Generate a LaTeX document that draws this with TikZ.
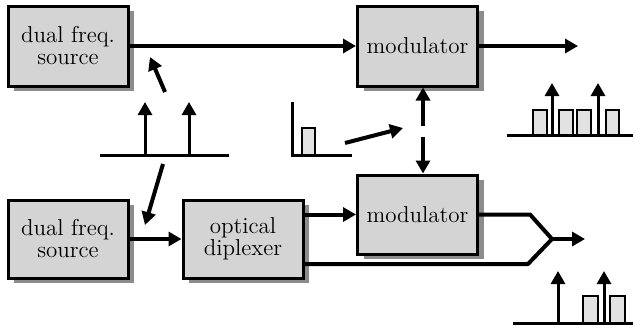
\documentclass[tikz,border=0pt]{standalone}
\usetikzlibrary{arrows.meta,calc,shadows}
\definecolor{blkFill}{HTML}{D4D4D4}
\definecolor{blkShade}{HTML}{8C8C8C}
\definecolor{bandFill}{HTML}{E2E2E2}
\tikzset{
  block/.style={
    draw=black, line width=1.5pt, fill=blkFill,
    minimum width=#1, minimum height=40pt, inner sep=2pt,
    align=center, font=\fontsize{11.5}{11}\selectfont,
    drop shadow={shadow xshift=3pt, shadow yshift=-2.5pt,
                 fill=blkShade, opacity=1}},
  block/.default=60pt,
  >={Triangle[length=6.5pt,width=7pt]},
  sig/.style={line width=2pt, ->},
  wire/.style={line width=2pt, line join=round},
  tone/.style={line width=1.5pt, ->},
  axis/.style={line width=1.5pt},
  band/.style={draw=black, line width=1pt, fill=bandFill},
}

\begin{document}
\begin{tikzpicture}[x=0.5pt,y=-0.5pt]
\useasboundingbox (0,0) rectangle (635,332);

% blocks
\node[block] (src1) at (68,46) {dual freq.\\ source};
\node[block] (mod1) at (417.5,46) {modulator};
\node[block, minimum height=39pt] (src2) at (68,239) {dual freq.\\ source};
\node[block, minimum height=39pt] (dipl) at (243,239) {optical\\ diplexer};
\node[block, minimum height=39.5pt] (mod2) at (417.5,214.5) {modulator};

% upper branch
\coordinate (out1) at (578,46);
\draw[sig] (src1.east) -- (mod1.west);
\draw[sig] (mod1.east) -- (out1);

% lower branch
\coordinate (join) at (552,239);
\coordinate (out2) at (585,239);
\draw[sig] (src2.east) -- (dipl.west);
\draw[sig] (dipl.east |- mod2.west) -- (mod2.west);
\draw[wire] (mod2.east) -- ++(51,0) -- (join);
\draw[wire] ($(dipl.east)+(0,25)$) -- (528,264) -- (join);
\draw[sig] (join) -- (out2);

% link between the modulators
\draw[sig, <->, dash pattern=on 13pt off 5.5pt on 60pt]
  ($(mod1.south)+(5.5,0)$) -- ($(mod2.north)+(5.5,0)$);

% two tones
\draw[axis] (100,155) -- (229,155);
\foreach \x in {145,189}
  \draw[tone] (\x,155) -- (\x,102);
\coordinate (upA) at (165,92);
\coordinate (upB) at (150,57);
\coordinate (dnA) at (163,164);
\coordinate (dnB) at (145,225);
\draw[sig] (upA) -- (upB);
\draw[sig] (dnA) -- (dnB);

% data band
\draw[axis] (292,102) -- (292,155) -- (352,155);
\draw[band] (302,128) rectangle (315,155);
\coordinate (dataA) at (345,143);
\coordinate (dataB) at (403,128);
\draw[sig] (dataA) -- (dataB);

% output spectrum, upper
\draw[axis] (507,135) -- (633,135);
\foreach \a/\b in {533/547,559/573,577/591,606/619}
  \draw[band] (\a,110) rectangle (\b,135);
\foreach \x in {552,598}
  \draw[tone] (\x,135) -- (\x,83);

% output spectrum, lower
\draw[axis] (513,323) -- (633,323);
\foreach \a/\b in {583/598,610/625}
  \draw[band] (\a,296) rectangle (\b,323);
\foreach \x in {558,604}
  \draw[tone] (\x,323) -- (\x,271);

\end{tikzpicture}
\end{document}
